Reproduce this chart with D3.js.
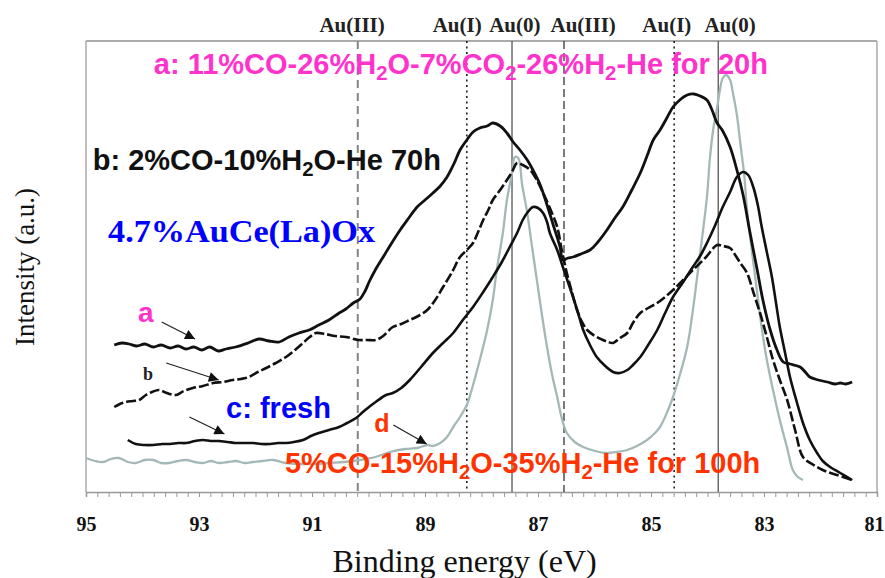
<!DOCTYPE html>
<html>
<head>
<meta charset="utf-8">
<script src="https://cdn.jsdelivr.net/npm/d3@7/dist/d3.min.js"></script>
<style>
  body { margin: 0; background: #fff; }
</style>
</head>
<body>
<div id="chart"></div>
<script>
// Au 4f XPS spectra, binding energy (eV) vs intensity (a.u.)

var curveA = [[94.50,147],[94.36,149],[94.24,148],[94.10,146],[93.96,148],[93.81,145],[93.67,147],[93.51,144],[93.37,146],[93.23,143],[93.09,145],[92.95,142],[92.81,145],[92.66,141],[92.52,143],[92.35,145],[92.13,149],[91.94,153],[91.76,151],[91.58,150],[91.41,155],[91.23,159],[91.05,162],[90.88,167],[90.70,172],[90.52,179],[90.40,183],[90.27,189],[90.15,193],[90.06,201],[89.99,210],[89.88,222],[89.74,235],[89.60,248],[89.44,262],[89.30,273],[89.14,285],[89.00,292],[88.86,299],[88.73,306],[88.61,315],[88.49,328],[88.38,342],[88.26,352],[88.15,360],[88.03,364],[87.90,366],[87.80,369],[87.67,366],[87.55,359],[87.44,350],[87.32,342],[87.19,332],[87.09,322],[86.96,307],[86.84,287],[86.73,267],[86.61,245],[86.56,232],[86.47,234],[86.38,235],[86.24,238],[86.08,242],[85.94,250],[85.78,262],[85.64,274],[85.50,285],[85.34,302],[85.19,319],[85.07,336],[84.96,352],[84.84,362],[84.72,374],[84.61,385],[84.49,392],[84.36,397],[84.24,398],[84.13,396],[84.01,392],[83.92,382],[83.83,369],[83.74,362],[83.60,345],[83.48,322],[83.37,297],[83.25,260],[83.12,222],[83.02,192],[82.89,162],[82.77,142],[82.66,130],[82.54,128],[82.36,125],[82.27,120],[82.19,115],[82.04,112],[81.88,110],[81.74,108],[81.65,109],[81.55,108],[81.44,110]];

var curveB = [[94.50,85],[94.40,88],[94.29,90],[94.17,91],[94.06,92],[93.94,97],[93.83,100],[93.71,102],[93.57,99],[93.41,97],[93.27,101],[93.11,104],[92.93,106],[92.75,109],[92.58,110],[92.40,112],[92.26,113],[92.12,115],[91.96,120],[91.81,124],[91.64,129],[91.46,135],[91.30,142],[91.16,149],[91.04,155],[90.93,159],[90.77,158],[90.59,156],[90.40,155],[90.17,152],[90.03,152],[89.87,152],[89.74,156],[89.57,165],[89.42,168],[89.27,172],[89.12,176],[88.96,182],[88.82,192],[88.68,205],[88.52,220],[88.38,235],[88.26,242],[88.15,249],[88.06,260],[87.97,272],[87.88,282],[87.80,292],[87.67,302],[87.55,312],[87.46,320],[87.37,329],[87.27,327],[87.14,322],[87.02,312],[86.91,299],[86.79,284],[86.66,265],[86.58,242],[86.49,219],[86.40,200],[86.31,182],[86.22,170],[86.13,162],[85.99,156],[85.85,152],[85.76,150],[85.67,149],[85.55,154],[85.42,159],[85.32,169],[85.19,179],[85.05,184],[84.89,189],[84.75,195],[84.61,202],[84.43,212],[84.26,222],[84.04,234],[83.83,247],[83.73,246],[83.60,244],[83.51,237],[83.42,229],[83.30,219],[83.19,200],[83.07,179],[82.95,155],[82.84,132],[82.72,112],[82.59,92],[82.45,62],[82.31,35],[82.15,28],[81.96,22],[81.71,17],[81.44,12]];

var curveC = [[94.26,52],[94.12,48],[93.96,47],[93.81,47],[93.65,48],[93.51,48],[93.37,49],[93.23,49],[93.07,51],[92.93,52],[92.79,51],[92.65,51],[92.49,50],[92.35,49],[92.19,49],[92.04,49],[91.90,48],[91.74,48],[91.60,49],[91.46,49],[91.32,50],[91.16,52],[91.02,56],[90.88,59],[90.70,62],[90.52,65],[90.38,69],[90.22,74],[90.10,80],[89.99,85],[89.85,91],[89.69,97],[89.57,99],[89.42,104],[89.27,112],[89.07,125],[88.86,139],[88.68,149],[88.50,159],[88.33,172],[88.15,185],[87.97,200],[87.80,215],[87.64,230],[87.50,245],[87.37,259],[87.27,272],[87.18,280],[87.09,285],[87.00,284],[86.91,279],[86.84,270],[86.79,259],[86.66,242],[86.56,225],[86.47,210],[86.38,195],[86.29,179],[86.20,162],[86.08,147],[85.96,135],[85.81,126],[85.67,120],[85.55,119],[85.42,122],[85.32,127],[85.19,135],[85.05,147],[84.89,162],[84.75,179],[84.61,195],[84.43,210],[84.26,225],[84.13,236],[84.01,249],[83.87,266],[83.73,285],[83.60,300],[83.48,315],[83.37,320],[83.28,317],[83.19,305],[83.11,287],[83.04,265],[82.95,240],[82.86,215],[82.79,190],[82.72,165],[82.63,140],[82.54,115],[82.42,90],[82.31,69],[82.19,52],[82.06,39],[81.96,31],[81.83,25],[81.65,19],[81.44,12]];

var curveD = [[95.00,34],[94.84,31],[94.70,30],[94.56,33],[94.42,34],[94.26,30],[94.12,29],[93.96,32],[93.81,32],[93.67,29],[93.53,29],[93.37,31],[93.23,32],[93.07,30],[92.93,29],[92.79,31],[92.65,29],[92.49,30],[92.35,31],[92.19,29],[92.04,30],[91.88,31],[91.69,32],[91.46,29],[91.21,28],[90.95,28],[90.68,29],[90.42,30],[90.15,32],[89.88,35],[89.62,40],[89.35,43],[89.14,44],[88.96,47],[88.86,46],[88.73,49],[88.61,55],[88.50,65],[88.38,75],[88.26,87],[88.15,107],[88.03,132],[87.90,162],[87.80,192],[87.73,222],[87.62,260],[87.55,292],[87.46,319],[87.41,335],[87.35,334],[87.28,307],[87.19,279],[87.11,247],[87.02,212],[86.93,177],[86.84,145],[86.75,117],[86.66,95],[86.58,74],[86.49,59],[86.35,50],[86.20,45],[85.99,41],[85.78,39],[85.60,40],[85.42,42],[85.25,46],[85.07,52],[84.93,59],[84.84,65],[84.72,79],[84.61,95],[84.49,117],[84.36,145],[84.27,177],[84.19,212],[84.10,252],[84.01,295],[83.96,332],[83.90,362],[83.83,384],[83.78,402],[83.73,414],[83.67,417],[83.60,412],[83.55,399],[83.48,377],[83.42,349],[83.35,317],[83.30,282],[83.21,239],[83.12,199],[83.04,164],[82.95,132],[82.84,102],[82.72,72],[82.59,44],[82.49,22],[82.40,15],[82.31,12]];

// reference energies for gold oxidation states (4f5/2 and 4f7/2)
var refEnergies = [90.19, 88.26, 87.46, 86.54, 84.59, 83.81];
var refStyles = ['dashGray', 'dot', 'solid', 'dash', 'dot', 'solid'];
var refNames = ['Au(III)', 'Au(I)', 'Au(0)', 'Au(III)', 'Au(I)', 'Au(0)'];
var refNameAt = [90.29, 88.43, 87.41, 86.20, 84.72, 83.60];

var tickLabels = [95, 93, 91, 89, 87, 85, 83, 81];

var W = 885, H = 578;
var margin = { top: 41, right: 8, bottom: 86, left: 86 };

var x = d3.scaleLinear().domain([95, 81]).range([margin.left, W - margin.right]);
var y = d3.scaleLinear().domain([0, 451]).range([H - margin.bottom, margin.top]);

var svg = d3.select('#chart').append('svg')
    .attr('width', W)
    .attr('height', H)
    .style('font-family', 'Liberation Sans, Arial, sans-serif');

var serif = 'Liberation Serif, Times New Roman, serif';

// frame
svg.append('line').attr('x1', x(95)).attr('x2', x(81)).attr('y1', y(451)).attr('y2', y(451))
    .attr('stroke', '#aaa').attr('stroke-width', 2);
svg.append('line').attr('x1', x(95)).attr('x2', x(95)).attr('y1', y(451)).attr('y2', y(0))
    .attr('stroke', '#aaa').attr('stroke-width', 1.5);
svg.append('line').attr('x1', x(81)).attr('x2', x(81)).attr('y1', y(451)).attr('y2', y(0))
    .attr('stroke', '#aaa').attr('stroke-width', 1.5);

// minor ticks every 0.2 eV
var minor = d3.range(0, 71).map(function(i) { return 95 - i * 0.2 });
var minorAxis = d3.axisBottom(x).tickValues(minor).tickSize(5).tickFormat('');
var gMinor = svg.append('g').attr('transform', 'translate(0,' + y(0) + ')').call(minorAxis);
gMinor.select('.domain').attr('stroke', '#999').attr('stroke-width', 1.5);
gMinor.selectAll('.tick line').attr('stroke', '#999');

var labelAxis = d3.axisBottom(x).tickValues(tickLabels).tickSize(0).tickPadding(25)
    .tickFormat(d3.format('d'));
var gLab = svg.append('g').attr('transform', 'translate(0,' + y(0) + ')').call(labelAxis);
gLab.select('.domain').remove();
gLab.selectAll('text')
    .attr('font-family', serif)
    .attr('font-weight', 'bold')
    .attr('font-size', 20)
    .attr('fill', '#111')
    .attr('dx', function(d) { return d === 81 ? -3 : 0 });

svg.append('text')
    .attr('x', x(88.3)).attr('y', 572)
    .attr('text-anchor', 'middle')
    .attr('font-family', serif)
    .attr('font-size', 32)
    .attr('fill', '#111')
    .text('Binding energy (eV)');

svg.append('text')
    .attr('transform', 'translate(34,' + y(225) + ') rotate(-90)')
    .attr('text-anchor', 'middle')
    .attr('font-family', serif)
    .attr('font-size', 27)
    .attr('fill', '#111')
    .text('Intensity (a.u.)');

// reference lines
var styleOf = {
    dashGray: { stroke: '#858585', width: 2, dash: '8,5' },
    dot: { stroke: '#222', width: 1.6, dash: '2,3.5' },
    solid: { stroke: '#555', width: 1.3, dash: null },
    dash: { stroke: '#333', width: 1.3, dash: '8,4' }
};

svg.selectAll('.ref').data(refEnergies).enter().append('line')
    .attr('class', 'ref')
    .attr('x1', function(d) { return x(d) })
    .attr('x2', function(d) { return x(d) })
    .attr('y1', y(451))
    .attr('y2', y(0))
    .attr('stroke', function(d, i) { return styleOf[refStyles[i]].stroke })
    .attr('stroke-width', function(d, i) { return styleOf[refStyles[i]].width })
    .attr('stroke-dasharray', function(d, i) { return styleOf[refStyles[i]].dash });

svg.selectAll('.refname').data(refNames).enter().append('text')
    .attr('class', 'refname')
    .attr('x', function(d, i) { return x(refNameAt[i]) })
    .attr('y', 32)
    .attr('text-anchor', 'middle')
    .attr('font-family', serif)
    .attr('font-weight', 'bold')
    .attr('font-size', 21)
    .attr('fill', '#222')
    .text(function(d) { return d });

// spectra
var line = d3.line()
    .x(function(d) { return x(d[0]) })
    .y(function(d) { return y(d[1]) })
    .curve(d3.curveCatmullRom.alpha(0.5));

svg.append('path').datum(curveD).attr('d', line)
    .attr('fill', 'none').attr('stroke', '#a4b8b8').attr('stroke-width', 2.3);
svg.append('path').datum(curveB).attr('d', line)
    .attr('fill', 'none').attr('stroke', '#111').attr('stroke-width', 2.6)
    .attr('stroke-dasharray', '10,3');
svg.append('path').datum(curveC).attr('d', line)
    .attr('fill', 'none').attr('stroke', '#111').attr('stroke-width', 2.6);
svg.append('path').datum(curveA).attr('d', line)
    .attr('fill', 'none').attr('stroke', '#111').attr('stroke-width', 2.8);

// arrows
svg.append('defs').append('marker')
    .attr('id', 'head')
    .attr('viewBox', '0 0 10 10')
    .attr('refX', 10).attr('refY', 5)
    .attr('markerUnits', 'userSpaceOnUse')
    .attr('markerWidth', 13).attr('markerHeight', 10)
    .attr('orient', 'auto')
    .append('path').attr('d', 'M0,0L10,5L0,10z').attr('fill', '#111');

var arrows = [
    [93.66, 170, 93.07, 153],
    [93.58, 129, 92.65, 112],
    [93.17, 75, 92.55, 58],
    [89.56, 67, 88.97, 48]
];
svg.selectAll('.arrow').data(arrows).enter().append('line')
    .attr('class', 'arrow')
    .attr('x1', function(d) { return x(d[0]) })
    .attr('y1', function(d) { return y(d[1]) })
    .attr('x2', function(d) { return x(d[2]) })
    .attr('y2', function(d) { return y(d[3]) })
    .attr('stroke', '#222')
    .attr('stroke-width', 1.2)
    .attr('marker-end', 'url(#head)');

// text with subscripts written as _2
function richText(str, px, py, size, color) {
    var t = svg.append('text')
        .attr('x', px).attr('y', py)
        .attr('font-size', size)
        .attr('font-weight', 'bold')
        .attr('fill', color);
    var parts = str.split(/_(\d)/);
    var shift = Math.round(size * 0.21);
    var down = false;
    parts.forEach(function(p, i) {
        if (p === '') return;
        if (i % 2 === 1) {
            t.append('tspan').attr('dy', shift).attr('font-size', size * 0.7).text(p);
            down = true;
        } else {
            t.append('tspan').attr('dy', down ? -shift : 0).text(p);
            down = false;
        }
    });
    return t;
}

richText('a: 11%CO-26%H_2O-7%CO_2-26%H_2-He for 20h', x(93.80), y(418), 29, '#ff33cc');
richText('b: 2%CO-10%H_2O-He 70h', x(94.88), y(322), 29, '#111');
richText('a', x(94.08), y(170), 28, '#ff33cc');
richText('c: fresh', x(92.52), y(74), 29, '#0000ff');
richText('d', x(89.90), y(60), 25, '#ff3300');
richText('5%CO-15%H_2O-35%H_2-He for 100h', x(91.48), y(19), 29, '#ff3300');

svg.append('text')
    .attr('x', x(94.61)).attr('y', y(250))
    .attr('font-family', serif)
    .attr('font-weight', 'bold')
    .attr('font-size', 31)
    .attr('textLength', 267)
    .attr('lengthAdjust', 'spacingAndGlyphs')
    .attr('fill', '#0000ff')
    .text('4.7%AuCe(La)Ox');

svg.append('text')
    .attr('x', x(93.99)).attr('y', y(112))
    .attr('font-family', serif)
    .attr('font-weight', 'bold')
    .attr('font-size', 18)
    .attr('fill', '#222')
    .text('b');
</script>
</body>
</html>
